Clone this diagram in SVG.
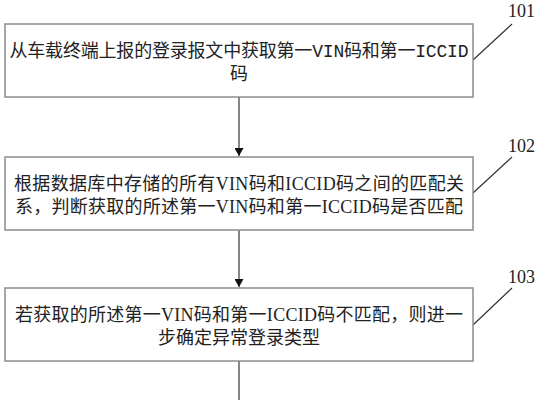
<svg xmlns="http://www.w3.org/2000/svg" width="542" height="400" viewBox="0 0 542 400">
<style>
.box{fill:#fff;stroke:#8c8c8c;stroke-width:1.5}
.t{font-family:"Liberation Serif","Noto Sans CJK SC",serif;font-size:18px;fill:#222;text-anchor:middle}
.m{font-family:"Liberation Mono","Noto Sans CJK SC",monospace}
.lbl{font-family:"Liberation Serif",serif;font-size:18px;fill:#222}
.lead{stroke:#333;stroke-width:1.2;fill:none}
.conn{stroke:#444;stroke-width:1.3;fill:none}
</style>
<defs>
<marker id="arr" viewBox="0 0 8 9" refX="8" refY="4.5" markerWidth="8" markerHeight="9" markerUnits="userSpaceOnUse" orient="auto">
<path d="M0,0 L8,4.5 L0,9 Z" fill="#111"/>
</marker>
</defs>
<rect width="542" height="400" fill="#fff"/>
<g id="connectors">
<line class="conn" x1="239" y1="97" x2="239" y2="156" marker-end="url(#arr)"/>
<line class="conn" x1="239" y1="230" x2="239" y2="287" marker-end="url(#arr)"/>
<line class="conn" x1="239" y1="361" x2="239" y2="400"/>
<line class="lead" x1="473" y1="60" x2="512" y2="24"/>
<line class="lead" x1="473" y1="193" x2="512" y2="157"/>
<line class="lead" x1="473" y1="325" x2="512" y2="288"/>
</g>
<g id="node101">
<rect class="box" x="5" y="24" width="468" height="73"/>
<text class="t m" x="239" y="57" textLength="459" lengthAdjust="spacing">从车载终端上报的登录报文中获取第一VIN码和第一ICCID</text>
<text class="t m" x="239" y="80">码</text>
<text class="lbl" x="508" y="17">101</text>
</g>
<g id="node102">
<rect class="box" x="5" y="157" width="468" height="73"/>
<text class="t" x="239" y="190" textLength="450" lengthAdjust="spacing">根据数据库中存储的所有VIN码和ICCID码之间的匹配关</text>
<text class="t" x="239" y="213" textLength="448" lengthAdjust="spacing">系，判断获取的所述第一VIN码和第一ICCID码是否匹配</text>
<text class="lbl" x="508" y="152">102</text>
</g>
<g id="node103">
<rect class="box" x="5" y="288" width="468" height="73"/>
<text class="t" x="239" y="321" textLength="448" lengthAdjust="spacing">若获取的所述第一VIN码和第一ICCID码不匹配，则进一</text>
<text class="t" x="239" y="344">步确定异常登录类型</text>
<text class="lbl" x="508" y="283">103</text>
</g>
</svg>
